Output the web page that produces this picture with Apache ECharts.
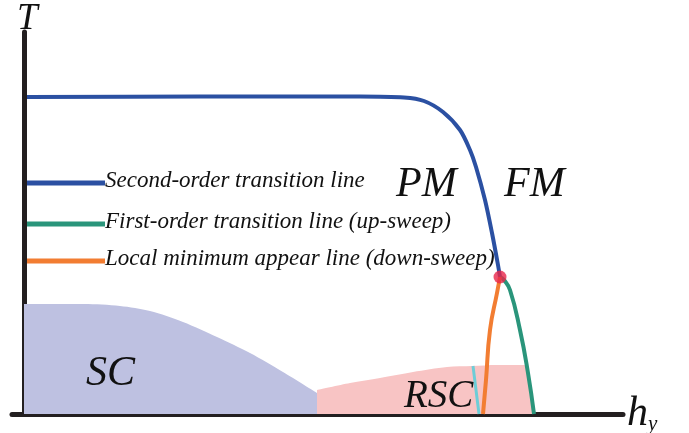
<!DOCTYPE html>
<html><head><meta charset="utf-8">
<script src="https://cdn.jsdelivr.net/npm/echarts@6/dist/echarts.min.js"></script>
<style>html,body{margin:0;padding:0;background:#fff}#c{width:689px;height:433px}</style>
</head><body><div id="c"></div>
<script>
// Schematic phase diagram (arbitrary units: x = h_y, y = T)
const secondOrderLine = [[3,317],[176,317.5],[336,317.5],[380,316.5],[400,313],[419,302],[436,284],[446,264],[452,247],[461,214],[468,181],[474,149],[476,137]];
const firstOrderLine = [[476,137],[480,134],[486,124],[496,84],[504,41],[510,0]];
const localMinLine = [[476,137],[473,121],[466,84],[462,34],[459,0]];
const cyanLine = [[449,48],[455,0]];
const scRegion = [[0,110],[60,110],[96,108],[126,103],[159,92],[193,77],[226,61],[259,42],[293,21]];
const rscRegion = [[293,24],[326,31],[356,36],[389,42],[423,47],[448,48],[473,49],[500,49],[504,41],[510,0]];
const criticalPoint = [[476,137]];
const legendKeyX = [3,81];
const legendKeyY = [231,190,153];
const legendTexts = ['Second-order transition line','First-order transition line (up-sweep)','Local minimum appear line (down-sweep)'];
const legendColors = ['#2b50a2','#2a957b','#f27d32'];

const chart = echarts.init(document.getElementById('c'), null, {renderer:'canvas'});
const serif = 'Liberation Serif, Times New Roman, serif';
const series = [
  {type:'line', data:scRegion, symbol:'none', smooth:0.3, lineStyle:{width:0}, areaStyle:{color:'#bec1e1',opacity:1}, z:1, silent:true},
  {type:'line', data:rscRegion, symbol:'none', smooth:0.3, lineStyle:{width:0}, areaStyle:{color:'#f8c4c4',opacity:1}, z:1, silent:true},
  {type:'line', data:cyanLine, symbol:'none', lineStyle:{width:3,color:'#6dcdd7'}, z:3},
  {type:'line', data:secondOrderLine, symbol:'none', smooth:0.3, lineStyle:{width:4,color:legendColors[0]}, z:4},
  {type:'line', data:firstOrderLine, symbol:'none', smooth:0.5, lineStyle:{width:4,color:legendColors[1]}, z:4},
  {type:'line', data:localMinLine, symbol:'none', smooth:0.5, lineStyle:{width:4,color:legendColors[2]}, z:4},
  {type:'scatter', data:criticalPoint, symbolSize:13, itemStyle:{color:'#e8264a'}, z:6}
];
legendKeyY.forEach((y,i)=>{
  series.push({type:'line', data:[[legendKeyX[0],y],[legendKeyX[1],y]], symbol:'none', lineStyle:{width:5,color:legendColors[i]}, z:5,
    endLabel:{show:true, formatter:legendTexts[i], color:'#111', fontFamily:serif, fontStyle:'italic', fontSize:23, distance:0, offset:[0,-2]}});
});
function txt(s,x,y,size){return {type:'text',x:x,y:y,z:100,style:{text:s,fill:'#111',font:'italic '+size+'px '+serif,textVerticalAlign:'bottom'}};}
chart.setOption({
  animation:false,
  grid:{left:12,right:66,top:32,bottom:19,containLabel:false},
  xAxis:{type:'value',min:-12,max:599,axisLine:{show:true,onZero:true,lineStyle:{color:'#231f20',width:5}},axisTick:{show:false},axisLabel:{show:false},splitLine:{show:false}},
  yAxis:{type:'value',min:0,max:382,axisLine:{show:true,onZero:true,lineStyle:{color:'#231f20',width:5}},axisTick:{show:false},axisLabel:{show:false},splitLine:{show:false}},
  graphic:[
    txt('T',17,38,37),
    {type:'text',x:627,y:435,z:100,style:{rich:{a:{font:'italic 42px '+serif,fill:'#111'},b:{font:'italic 21px '+serif,fill:'#111',verticalAlign:'bottom'}},text:'{a|h}{b|y}',textVerticalAlign:'bottom'}},
    txt('PM',396,206,42),
    txt('FM',504,206,42),
    txt('SC',86,395,42),
    txt('RSC',404,416,39)
  ],
  series:series
});
</script></body></html>
